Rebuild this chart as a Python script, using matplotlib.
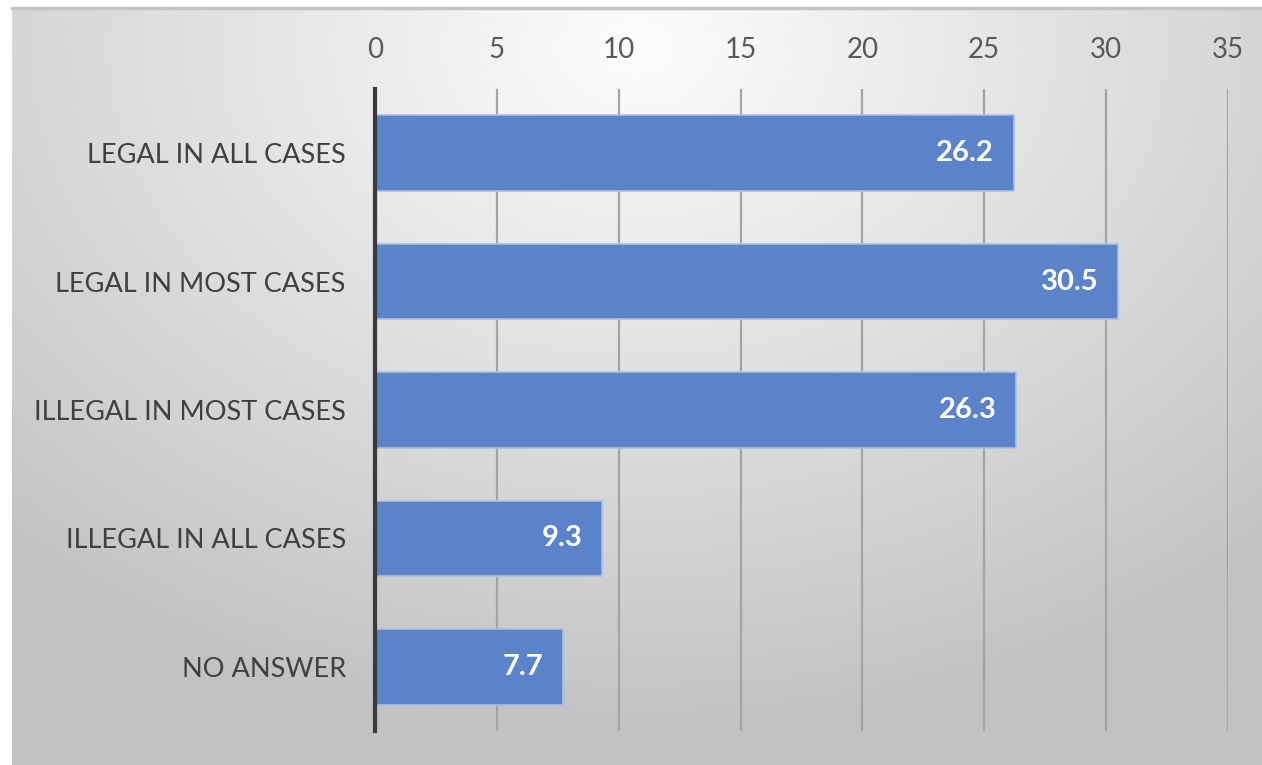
import numpy as np
import matplotlib.pyplot as plt

categories = ["LEGAL IN ALL CASES", "LEGAL IN MOST CASES", "ILLEGAL IN MOST CASES",
              "ILLEGAL IN ALL CASES", "NO ANSWER"]
values = [26.2, 30.5, 26.3, 9.3, 7.7]
xticks = [0, 5, 10, 15, 20, 25, 30, 35]

plt.rcParams['font.family'] = ['Lato', 'DejaVu Sans']

W, H = 1262, 765
fig = plt.figure(figsize=(W / 100, H / 100), dpi=100)

# gradient background (chart area starts a bit in from the left/top)
bg = fig.add_axes([12 / W, 0, 1 - 12 / W, 1 - 8 / H])
yy, xx = np.mgrid[0:1:300j, 0:1:500j]
r = np.sqrt(((xx - 0.5) * 1.1) ** 2 + ((yy - 0.05) * 0.9) ** 2)
shade = np.clip(0.99 - 0.28 * r, 0.76, 0.99)
bg.imshow(shade, cmap='gray', vmin=0, vmax=1, aspect='auto', extent=[0, 1, 1, 0])
bg.axis('off')
fig.add_artist(plt.Line2D([12 / W, 1], [1 - 8 / H, 1 - 8 / H], color='#c4c4c4', lw=2.5))

ax = fig.add_axes([375 / W, 34 / H, (1228 - 375) / W, (731 - 89) / H])
ax.patch.set_alpha(0)
y = np.arange(len(categories))
bars = ax.barh(y, values, height=0.59, color='#5b83c9', edgecolor='#a9c0e8', linewidth=1.2, zorder=3)
for b, v in zip(bars, values):
    ax.text(v - 0.8, b.get_y() + b.get_height() / 2, f"{v}", ha='right', va='center',
            color='white', fontsize=21, fontweight='bold', zorder=4)

ax.set_xlim(0, 35)
ax.set_ylim(4.5, -0.5)
ax.set_xticks(xticks)
ax.set_yticks(y)
ax.set_yticklabels(categories)
ax.xaxis.tick_top()
ax.tick_params(axis='x', length=0, pad=19, labelsize=20, labelcolor='#595959')
ax.tick_params(axis='y', length=0, pad=21, labelsize=19.5, labelcolor='#404040')
ax.grid(axis='x', color='#a4a4a4', linewidth=1.6, zorder=0)
for s in ['top', 'right', 'bottom']:
    ax.spines[s].set_visible(False)
ax.spines['left'].set_color('#3a3a3a')
ax.spines['left'].set_linewidth(3)
ax.spines['left'].set_zorder(5)

fig.savefig('out.png', dpi=100)
